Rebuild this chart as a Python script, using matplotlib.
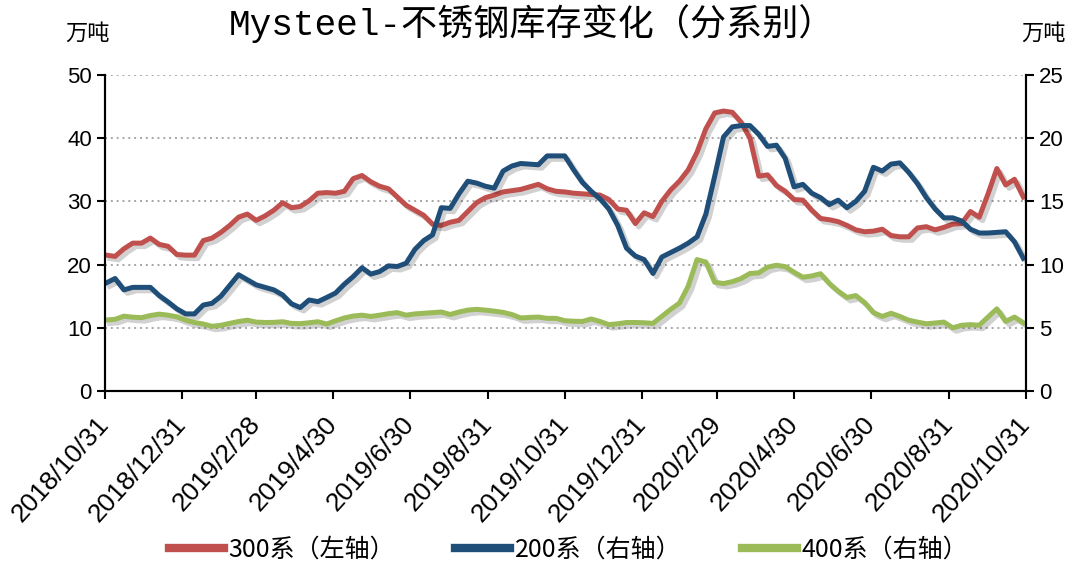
import numpy as np
import pandas as pd
import matplotlib
matplotlib.use('Agg')
import matplotlib.pyplot as plt
import matplotlib.patheffects as pe

plt.rcParams['font.family'] = ['Noto Sans CJK SC', 'DejaVu Sans']

# 周度数据（万吨）
dates = pd.date_range('2018-11-01', periods=105, freq='7D')

s300 = [21.5, 21.3, 22.5, 23.4, 23.4, 24.2, 23.2, 22.9, 21.6, 21.5,
        21.5, 23.8, 24.2, 25.1, 26.2, 27.5, 28.0, 27.0, 27.7, 28.6,
        29.8, 29.0, 29.2, 30.1, 31.3, 31.4, 31.3, 31.6, 33.6, 34.1,
        33.1, 32.4, 32.0, 30.7, 29.4, 28.6, 27.8, 26.4, 26.2, 26.7,
        27.0, 28.4, 29.8, 30.6, 31.0, 31.5, 31.7, 31.9, 32.3, 32.7,
        32.0, 31.6, 31.5, 31.3, 31.2, 31.1, 31.0, 30.3, 28.8, 28.6,
        26.5, 28.2, 27.6, 30.0, 31.8, 33.2, 35.0, 37.8, 41.5, 44.0,
        44.3, 44.1, 42.5, 40.0, 34.0, 34.2, 32.5, 31.6, 30.3, 30.2,
        28.6, 27.3, 27.1, 26.8, 26.2, 25.5, 25.2, 25.3, 25.6, 24.6,
        24.4, 24.4, 25.8, 26.0, 25.5, 25.9, 26.4, 26.5, 28.4, 27.5,
        31.2, 35.2, 32.6, 33.5, 30.7]

s200 = [8.55, 8.9, 8.0, 8.2, 8.2, 8.2, 7.55, 7.05, 6.5, 6.1,
        6.1, 6.8, 6.94, 7.5, 8.35, 9.2, 8.8, 8.4, 8.2, 8.0,
        7.6, 6.9, 6.6, 7.2, 7.07, 7.4, 7.75, 8.45, 9.05, 9.75,
        9.25, 9.45, 9.9, 9.85, 10.1, 11.2, 11.9, 12.35, 14.5, 14.45,
        15.6, 16.6, 16.45, 16.2, 16.05, 17.4, 17.8, 18.0, 17.95, 17.9,
        18.6, 18.6, 18.6, 17.5, 16.5, 15.8, 15.2, 14.4, 13.1, 11.3,
        10.68, 10.4, 9.3, 10.6, 10.95, 11.3, 11.7, 12.2, 14.0, 17.0,
        20.1, 20.9, 21.0, 21.0, 20.3, 19.35, 19.45, 18.4, 16.15, 16.35,
        15.65, 15.3, 14.75, 15.1, 14.5, 15.0, 15.8, 17.7, 17.4, 17.95,
        18.05, 17.3, 16.4, 15.3, 14.4, 13.7, 13.7, 13.45, 12.8, 12.5,
        12.5, 12.55, 12.6, 11.8, 10.5]

s400 = [5.62, 5.67, 5.92, 5.84, 5.8, 5.97, 6.08, 6.0, 5.87, 5.6,
        5.42, 5.3, 5.12, 5.2, 5.35, 5.5, 5.6, 5.45, 5.42, 5.43,
        5.48, 5.35, 5.33, 5.4, 5.48, 5.3, 5.55, 5.78, 5.93, 6.0,
        5.9, 6.0, 6.12, 6.2, 6.0, 6.1, 6.15, 6.2, 6.25, 6.05,
        6.25, 6.4, 6.46, 6.4, 6.32, 6.22, 6.05, 5.78, 5.82, 5.85,
        5.75, 5.75, 5.56, 5.52, 5.5, 5.7, 5.5, 5.25, 5.32, 5.42,
        5.42, 5.4, 5.35, 5.9, 6.45, 6.95, 8.3, 10.4, 10.2, 8.6,
        8.5, 8.65, 8.9, 9.3, 9.35, 9.8, 9.95, 9.84, 9.4, 9.0,
        9.1, 9.28, 8.5, 7.9, 7.4, 7.55, 7.0, 6.2, 5.9, 6.15,
        5.9, 5.6, 5.45, 5.32, 5.38, 5.45, 5.0, 5.2, 5.25, 5.2,
        5.85, 6.5, 5.5, 5.85, 5.4]

tick_dates = pd.to_datetime(['2018-10-31', '2018-12-31', '2019-02-28', '2019-04-30',
                             '2019-06-30', '2019-08-31', '2019-10-31', '2019-12-31',
                             '2020-02-29', '2020-04-30', '2020-06-30', '2020-08-31',
                             '2020-10-31'])
tick_labels = [f'{d.year}/{d.month}/{d.day}' for d in tick_dates]

c_red = '#C0504D'
c_blue = '#1F4E79'
c_green = '#9BBB59'

shadow = [pe.SimpleLineShadow(offset=(2.5, -2.5), shadow_color='black', alpha=0.18),
          pe.Normal()]

fig = plt.figure(figsize=(10.77, 5.67), dpi=100)
ax = fig.add_axes([0.0975, 0.3104, 0.855, 0.5573])
ax2 = ax.twinx()

l1, = ax.plot(dates, s300, color=c_red, lw=3.6, path_effects=shadow, label='300系（左轴）')
l2, = ax2.plot(dates, s200, color=c_blue, lw=3.6, path_effects=shadow, label='200系（右轴）')
l3, = ax2.plot(dates, s400, color=c_green, lw=3.6, path_effects=shadow, label='400系（右轴）')

ax.set_ylim(0, 50)
ax.set_yticks(np.arange(0, 51, 10))
ax2.set_ylim(0, 25)
ax2.set_yticks(np.arange(0, 26, 5))
ax.set_xlim(tick_dates[0], tick_dates[-1])
ax.set_xticks(tick_dates)
ax.set_xticklabels(tick_labels, rotation=48, ha='right', va='center',
                   rotation_mode='anchor', family=['Liberation Sans', 'DejaVu Sans'])

ax.yaxis.grid(True, linestyle=(0, (1, 2)), color='#A6A6A6', lw=1.4)
ax.set_axisbelow(True)

for a in (ax, ax2):
    a.spines['top'].set_visible(False)
    for s in ('left', 'right', 'bottom'):
        a.spines[s].set_linewidth(1.5)
    a.tick_params(direction='out', length=6, width=1.5, labelsize=16)
    for lab in a.get_yticklabels():
        lab.set_family(['Liberation Sans', 'DejaVu Sans'])
ax.tick_params(axis='x', labelsize=19, pad=15)

fig.text(0.494, 0.958, 'Mysteel-不锈钢库存变化（分系别）', ha='center', va='center',
         fontsize=26, family=['Liberation Mono', 'Noto Sans CJK SC'])
fig.text(0.081, 0.942, '万吨', ha='center', va='center', fontsize=16)
fig.text(0.969, 0.942, '万吨', ha='center', va='center', fontsize=16)

fig.legend([l1, l2, l3], [l1.get_label(), l2.get_label(), l3.get_label()],
           loc='center', bbox_to_anchor=(0.528, 0.03), ncol=3, frameon=False,
           fontsize=18, handlelength=2.2, handletextpad=0.2, columnspacing=2.4)
for h in fig.legends[0].get_lines():
    h.set_linewidth(6)
    h.set_path_effects([])

fig.savefig('out.png', dpi=100)
